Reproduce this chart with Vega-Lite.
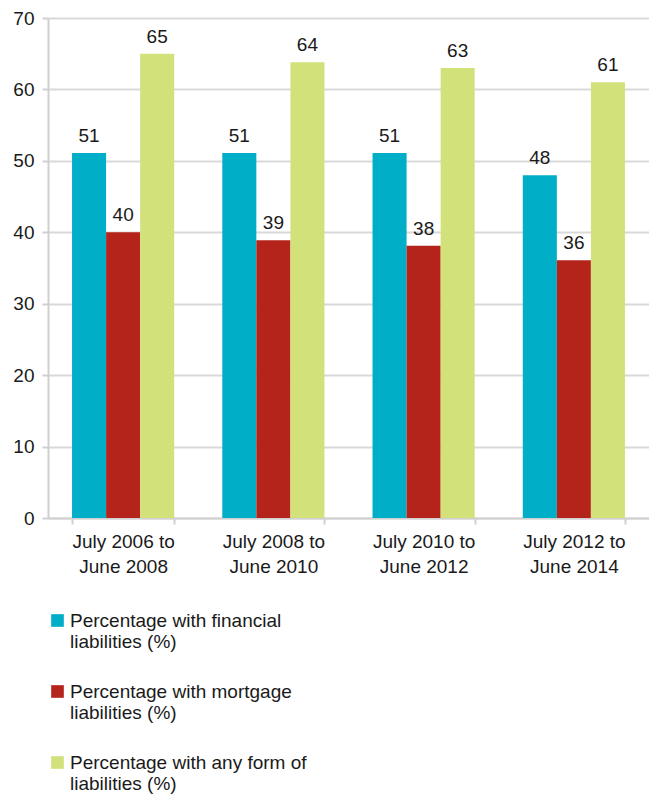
{
  "$schema": "https://vega.github.io/schema/vega-lite/v6.json",
  "width": 601,
  "height": 500,
  "autosize": {"type": "none"},
  "padding": {"left": 48, "top": 18, "right": 0, "bottom": 278},
  "background": "white",
  "config": {
    "font": "Liberation Sans",
    "view": {"stroke": null}
  },
  "data": {
    "values": [
      {"period": "July 2006 to June 2008", "series": "Percentage with financial liabilities (%)", "value": 51.1},
      {"period": "July 2006 to June 2008", "series": "Percentage with mortgage liabilities (%)", "value": 40.0},
      {"period": "July 2006 to June 2008", "series": "Percentage with any form of liabilities (%)", "value": 65.0},
      {"period": "July 2008 to June 2010", "series": "Percentage with financial liabilities (%)", "value": 51.1},
      {"period": "July 2008 to June 2010", "series": "Percentage with mortgage liabilities (%)", "value": 38.9},
      {"period": "July 2008 to June 2010", "series": "Percentage with any form of liabilities (%)", "value": 63.8},
      {"period": "July 2010 to June 2012", "series": "Percentage with financial liabilities (%)", "value": 51.1},
      {"period": "July 2010 to June 2012", "series": "Percentage with mortgage liabilities (%)", "value": 38.1},
      {"period": "July 2010 to June 2012", "series": "Percentage with any form of liabilities (%)", "value": 63.0},
      {"period": "July 2012 to June 2014", "series": "Percentage with financial liabilities (%)", "value": 48.0},
      {"period": "July 2012 to June 2014", "series": "Percentage with mortgage liabilities (%)", "value": 36.1},
      {"period": "July 2012 to June 2014", "series": "Percentage with any form of liabilities (%)", "value": 61.0}
    ]
  },
  "encoding": {
    "x": {
      "field": "period",
      "type": "nominal",
      "sort": null,
      "scale": {"paddingInner": 0.32, "paddingOuter": 0.16},
      "axis": {
        "title": null,
        "labelAngle": 0,
        "labelFontSize": 19,
        "labelColor": "#1a1a1a",
        "labelLineHeight": 25,
        "labelPadding": 8,
        "labelExpr": "split(replace(datum.label, ' to ', ' to|'), '|')",
        "tickBand": "extent",
        "tickColor": "#d0d0d0",
        "tickWidth": 2,
        "tickSize": 6,
        "domainColor": "#d0d0d0",
        "domainWidth": 2,
        "grid": false
      }
    },
    "xOffset": {"field": "series", "type": "nominal", "sort": null},
    "y": {
      "field": "value",
      "type": "quantitative",
      "scale": {"domain": [0, 70]},
      "axis": {
        "title": null,
        "values": [0, 10, 20, 30, 40, 50, 60, 70],
        "labelFontSize": 19,
        "labelColor": "#1a1a1a",
        "labelPadding": 8,
        "tickColor": "#d0d0d0",
        "tickWidth": 2,
        "tickSize": 6,
        "domainColor": "#d0d0d0",
        "domainWidth": 2,
        "gridColor": "#d9d9d9",
        "gridWidth": 2
      }
    }
  },
  "layer": [
    {
      "mark": {"type": "bar"},
      "encoding": {
        "color": {
          "field": "series",
          "type": "nominal",
          "sort": null,
          "scale": {"range": ["#00AEC7", "#B5241B", "#D3E17A"]},
          "legend": {
            "title": null,
            "orient": "none",
            "legendX": 0,
            "legendY": 593,
            "direction": "vertical",
            "symbolType": "square",
            "symbolSize": 160,
            "symbolStrokeWidth": 0,
            "labelFontSize": 19,
            "labelColor": "#1a1a1a",
            "labelOffset": 3,
            "labelLimit": 400,
            "rowPadding": 30,
            "labelExpr": "split(replace(datum.label, ' liabilities', '|liabilities'), '|')"
          }
        }
      }
    },
    {
      "mark": {"type": "text", "baseline": "bottom", "dy": -7, "fontSize": 19, "color": "#1a1a1a"},
      "encoding": {
        "text": {"field": "value", "type": "quantitative", "format": ".0f"}
      }
    }
  ]
}
